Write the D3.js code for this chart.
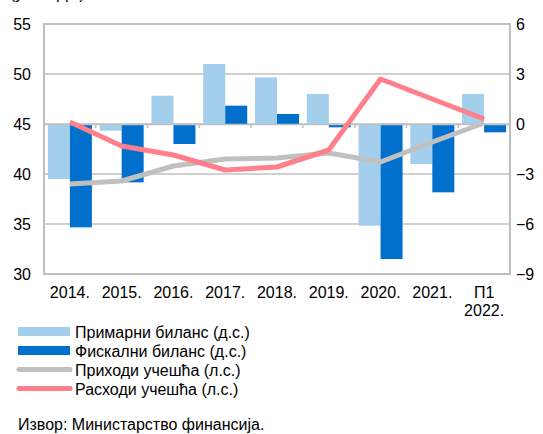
<!DOCTYPE html>
<html><head><meta charset="utf-8">
<script src="https://cdn.jsdelivr.net/npm/d3@7"></script>
<style>body{margin:0;background:#fff}svg{display:block;font-family:"Liberation Sans",Arial,sans-serif}</style>
</head><body>
<script>
const categories = ["2014.","2015.","2016.","2017.","2018.","2019.","2020.","2021.","П1\n2022."];
const primaryBalance = [-3.3,-0.4,1.7,3.6,2.8,1.8,-6.1,-2.4,1.8];
const fiscalBalance = [-6.2,-3.5,-1.2,1.1,0.6,-0.2,-8.1,-4.1,-0.5];
const revenues = [39.0,39.3,40.8,41.5,41.6,42.1,41.2,43.2,45.1];
const expenditures = [45.2,42.8,41.9,40.4,40.7,42.4,49.5,47.5,45.5];
const leftTicks = [30,35,40,45,50,55];
const rightTicks = [-9,-6,-3,0,3,6];
const seriesNames = ["Примарни биланс (д.с.)","Фискални биланс (д.с.)","Приходи учешћа (л.с.)","Расходи учешћа (л.с.)"];
const unitLabel = "(у % БДП)";
const sourceText = "Извор: Министарство финансија.";

const W=543,H=434, L=44,R=510,T=24,B=274, FS=16;
const cLight="#a3cfec", cDark="#0070cc", cGray="#c0c0c0", cPink="#ff7f8a", grid="#c0c0c0";
const svg=d3.select("body").append("svg").attr("width",W).attr("height",H);
const x=d3.scaleBand().domain(categories).range([L,R]);
const yL=d3.scaleLinear().domain([30,55]).range([B,T]);
const yR=d3.scaleLinear().domain([-9,6]).range([B,T]);

svg.append("text").attr("x",10).attr("y",-1).attr("font-size",FS).text(unitLabel);

// gridlines
svg.append("g").selectAll("line").data(leftTicks).join("line")
 .attr("x1",L).attr("x2",R).attr("y1",d=>yL(d)).attr("y2",d=>yL(d))
 .attr("stroke",grid).attr("stroke-width",1.5);

// bars
const bw=22;
svg.append("g").selectAll("rect").data(primaryBalance).join("rect")
 .attr("x",(d,i)=>x(categories[i])+x.bandwidth()/2-bw).attr("width",bw)
 .attr("y",d=>yR(Math.max(0,d))).attr("height",d=>Math.abs(yR(d)-yR(0)))
 .attr("fill",cLight);
svg.append("g").selectAll("rect").data(fiscalBalance).join("rect")
 .attr("x",(d,i)=>x(categories[i])+x.bandwidth()/2).attr("width",bw)
 .attr("y",d=>yR(Math.max(0,d))).attr("height",d=>Math.abs(yR(d)-yR(0)))
 .attr("fill",cDark);

// category axis at zero
const ax=svg.append("g").attr("transform",`translate(0,${yR(0)})`)
 .call(d3.axisBottom(x).tickSize(0).tickFormat(""));
ax.select(".domain").attr("stroke",grid).attr("stroke-width",1.5);
svg.append("g").selectAll("line").data(categories.slice(1)).join("line")
 .attr("x1",d=>x(d)).attr("x2",d=>x(d)).attr("y1",yR(0)).attr("y2",yR(0)+4)
 .attr("stroke",grid).attr("stroke-width",1.5);

// lines
const line=yS=>d3.line().x((d,i)=>x(categories[i])+x.bandwidth()/2).y(d=>yS(d));
svg.append("path").datum(revenues).attr("d",line(yL)).attr("fill","none")
 .attr("stroke",cGray).attr("stroke-width",5).attr("stroke-linejoin","round");
svg.append("path").datum(expenditures).attr("d",line(yL)).attr("fill","none")
 .attr("stroke",cPink).attr("stroke-width",5).attr("stroke-linejoin","round");

// frame
svg.append("rect").attr("x",L).attr("y",T).attr("width",R-L).attr("height",B-T)
 .attr("fill","none").attr("stroke","#bfbfbf").attr("stroke-width",2);

// axis labels
const gl=svg.append("g").attr("transform",`translate(${L},0)`)
 .call(d3.axisLeft(yL).tickValues(leftTicks).tickSize(0).tickPadding(13));
gl.select(".domain").remove();
gl.selectAll("text").attr("font-size",FS).attr("fill","#000").attr("font-family","Liberation Sans, Arial, sans-serif");
const gr=svg.append("g").attr("transform",`translate(${R},0)`)
 .call(d3.axisRight(yR).tickValues(rightTicks).tickSize(0).tickPadding(6).tickFormat(d3.format("d")));
gr.select(".domain").remove();
gr.selectAll("text").attr("font-size",FS).attr("fill","#000").attr("font-family","Liberation Sans, Arial, sans-serif");

// x labels
const xl=svg.append("g").selectAll("text").data(categories).join("text")
 .attr("x",d=>x(d)+x.bandwidth()/2).attr("y",298).attr("text-anchor","middle").attr("font-size",FS);
xl.each(function(d){
  const parts=d.split("\n");
  d3.select(this).selectAll("tspan").data(parts).join("tspan")
   .attr("x",x(d)+x.bandwidth()/2).attr("dy",(p,i)=>i?18:0).text(p=>p);
});

// legend
const lg=svg.append("g");
const rows=[{t:"rect",c:cLight},{t:"rect",c:cDark},{t:"line",c:cGray},{t:"line",c:cPink}];
rows.forEach((r,i)=>{
  const cy=332+i*19;
  if(r.t==="rect") lg.append("rect").attr("x",18).attr("y",cy-5).attr("width",52).attr("height",9).attr("fill",r.c);
  else lg.append("line").attr("x1",19).attr("x2",70).attr("y1",cy-0.5).attr("y2",cy-0.5).attr("stroke",r.c).attr("stroke-width",5).attr("stroke-linecap","round");
  lg.append("text").attr("x",75).attr("y",cy+5.5).attr("font-size",FS).text(seriesNames[i]);
});
svg.append("text").attr("x",18).attr("y",429.5).attr("font-size",FS).text(sourceText);
</script>
</body></html>
